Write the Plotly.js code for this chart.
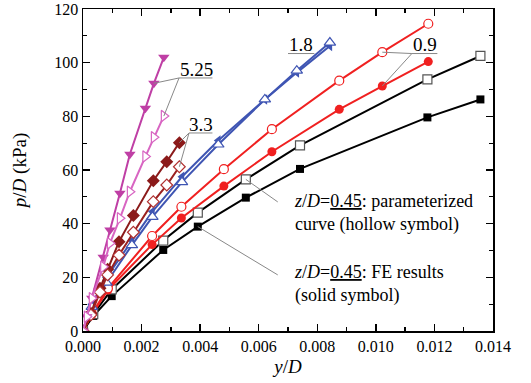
<!DOCTYPE html>
<html>
<head>
<meta charset="utf-8">
<script src="https://cdn.plot.ly/plotly-3.0.1.min.js"></script>
<style>html,body{margin:0;padding:0;background:#fff;}#chart{width:531px;height:383px;}</style>
</head>
<body>
<div id="chart"></div>
<script>
// z/D = 0.45
const x045 = [0, 0.00035, 0.00098, 0.00274, 0.00392, 0.00556, 0.00741, 0.01176, 0.01357];
const fe045 = [0, 5.6, 13.0, 30.2, 38.9, 49.7, 60.4, 79.6, 86.3];
const par045 = [0, 6.3, 15.5, 33.7, 44.1, 56.5, 69.2, 93.8, 102.5];
// z/D = 0.9
const x09 = [0, 0.0003, 0.00085, 0.00236, 0.00336, 0.00481, 0.00645, 0.00875, 0.01022, 0.01179];
const fe09 = [0, 6.0, 15.3, 32.2, 42.1, 54.0, 66.8, 82.6, 91.3, 100.4];
const par09 = [0, 6.5, 15.9, 35.4, 46.3, 60.3, 75.2, 93.3, 103.9, 114.5];
// z/D = 1.8
const x18 = [0, 0.0003, 0.0008, 0.00167, 0.00237, 0.00338, 0.00462, 0.00621, 0.0073, 0.00843];
const fe18 = [0, 10.0, 20.0, 33.7, 44.5, 57.5, 71.0, 86.3, 96.3, 106.2];
const par18 = [0, 9.0, 18.0, 32.0, 42.5, 55.5, 69.5, 86.3, 97.0, 107.5];
// z/D = 3.3
const x33 = [0, 0.00027, 0.00058, 0.00084, 0.00123, 0.00172, 0.0024, 0.00286, 0.00329];
const fe33 = [0, 6.6, 15.9, 23.0, 33.3, 43.0, 56.0, 63.1, 70.2];
const par33 = [0, 6.0, 14.5, 20.9, 28.3, 36.8, 48.2, 54.4, 61.2];
// z/D = 5.25
const x525 = [0, 0.00013, 0.0003, 0.00069, 0.00092, 0.00126, 0.0016, 0.00213, 0.00242, 0.00276];
const fe525 = [0, 5.3, 12.2, 27.5, 37.6, 51.3, 65.9, 83.0, 92.3, 102.0];
const par525 = [0, 5.3, 12.2, 23.9, 32.7, 42.0, 51.9, 65.0, 72.2, 80.1];

function fe(x, y, color, symbol, size) {
  return {x: x, y: y, type: 'scatter', mode: 'lines+markers',
    line: {color: color, width: 2},
    marker: {symbol: symbol, size: size, color: color, line: {width: 0}}};
}
function par(x, y, color, edge, symbol, size) {
  return {x: x, y: y, type: 'scatter', mode: 'lines+markers',
    line: {color: color, width: 2},
    marker: {symbol: symbol, size: size, color: '#ffffff', line: {color: edge, width: 1.2}}};
}

const cMag = '#bf3fa5', cMag2 = '#d865c2';
const cDR = '#8b1a1a';
const cBlue = '#3f55b3';
const cRed = '#f02020';

const data = [
  fe(x045, fe045, '#000000', 'square', 8),
  par(x045, par045, '#000000', '#555555', 'square', 9),
  fe(x09, fe09, cRed, 'circle', 9),
  par(x09, par09, cRed, cRed, 'circle', 9),
  fe(x18, fe18, cBlue, 'triangle-left', 9),
  par(x18, par18, cBlue, cBlue, 'triangle-up', 10),
  fe(x33, fe33, cDR, 'diamond', 10),
  par(x33, par33, '#9a2020', '#b03030', 'diamond', 9),
  fe(x525, fe525, cMag, 'triangle-down', 10),
  par(x525, par525, cMag2, cMag2, 'triangle-right', 10)
];

const serif = 'Liberation Serif';
const leader = {type: 'line', xref: 'x', yref: 'y', line: {color: '#888888', width: 1}};
function seg(x0, y0, x1, y1) { return Object.assign({x0: x0, y0: y0, x1: x1, y1: y1}, leader); }

const layout = {
  width: 531, height: 383,
  margin: {l: 83, r: 38, t: 9, b: 52},
  paper_bgcolor: '#ffffff', plot_bgcolor: '#ffffff',
  showlegend: false,
  font: {family: serif, size: 16, color: '#000'},
  xaxis: {
    range: [0, 0.014], dtick: 0.002, tick0: 0, tickformat: '.3f',
    ticks: 'inside', ticklen: 7, tickwidth: 1.3, tickcolor: '#000',
    minor: {dtick: 0.001, ticks: 'inside', ticklen: 4, tickwidth: 1.3, tickcolor: '#000'},
    showline: true, linewidth: 1.5, linecolor: '#000', mirror: 'ticks',
    showgrid: false, zeroline: false,
    tickfont: {family: serif, size: 16, color: '#000'},
    title: {text: '<i>y</i>/<i>D</i>', font: {family: serif, size: 19, color: '#000'}, standoff: 6}
  },
  yaxis: {
    range: [0, 120], dtick: 20, tick0: 0,
    ticks: 'inside', ticklen: 7, tickwidth: 1.3, tickcolor: '#000',
    minor: {dtick: 10, ticks: 'inside', ticklen: 4, tickwidth: 1.3, tickcolor: '#000'},
    showline: true, linewidth: 1.5, linecolor: '#000', mirror: 'ticks',
    showgrid: false, zeroline: false,
    tickfont: {family: serif, size: 16, color: '#000'},
    title: {text: '<i>p</i>/<i>D</i> (kPa)', font: {family: serif, size: 19, color: '#000'}, standoff: 22}
  },
  shapes: [
    seg(0.00328, 94.3, x525[8], fe525[8]),
    seg(0.00328, 94.3, x525[9], par525[9]),
    seg(0.00328, 94.3, 0.00442, 94.3),
    seg(0.00362, 73.8, x33[8], fe33[8]),
    seg(0.00362, 73.8, x33[8], par33[8]),
    seg(0.00362, 73.8, 0.00442, 73.8),
    seg(0.00700, 103.4, 0.00790, 103.4),
    seg(0.01123, 103.4, x09[8], par09[8]),
    seg(0.01123, 103.4, x09[8], fe09[8]),
    seg(0.01123, 103.4, 0.01210, 103.4),
    seg(x045[5], par045[5], 0.00665, 48.1),
    seg(x045[4], fe045[4], 0.00665, 20.9)
  ],
  annotations: [
    {x: 0.00386, y: 97.6, text: '5.25', showarrow: false, font: {family: serif, size: 19, color: '#000'}},
    {x: 0.00402, y: 77.0, text: '3.3', showarrow: false, font: {family: serif, size: 19, color: '#000'}},
    {x: 0.00744, y: 106.8, text: '1.8', showarrow: false, font: {family: serif, size: 19, color: '#000'}},
    {x: 0.01168, y: 106.6, text: '0.9', showarrow: false, font: {family: serif, size: 19, color: '#000'}},
    {x: 0.00712, y: 43.9, xanchor: 'left', align: 'left', showarrow: false,
     text: '<i>z</i>/<i>D</i>=<u>0.45</u>: parameterized<br>curve (hollow symbol)', font: {family: serif, size: 18, color: '#000'}},
    {x: 0.00712, y: 17.4, xanchor: 'left', align: 'left', showarrow: false,
     text: '<i>z</i>/<i>D</i>=<u>0.45</u>: FE results<br>(solid symbol)', font: {family: serif, size: 18, color: '#000'}}
  ]
};

Plotly.newPlot('chart', data, layout, {staticPlot: true, displayModeBar: false});
</script>
</body>
</html>
